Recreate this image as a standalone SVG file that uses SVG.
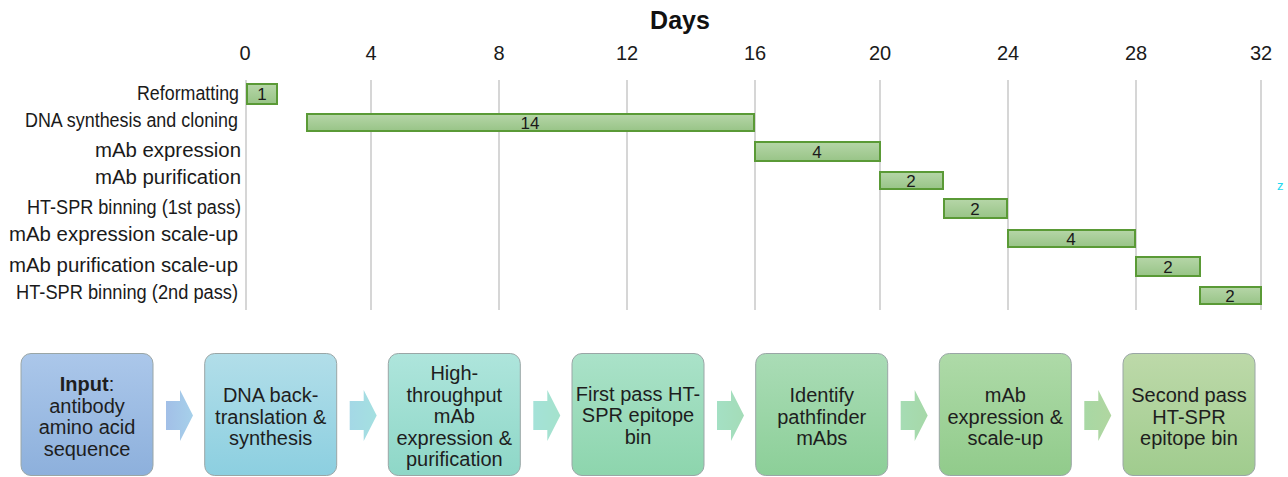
<svg xmlns="http://www.w3.org/2000/svg" width="1288" height="477" viewBox="0 0 1288 477">
<style>
.lbl{font-family:"Liberation Sans",Arial,sans-serif;font-size:20px;fill:#1a1a1a}
.tick{font-family:"Liberation Sans",Arial,sans-serif;font-size:20px;fill:#1a1a1a;text-anchor:middle}
.num{font-family:"Liberation Sans",Arial,sans-serif;font-size:17px;fill:#1a1a1a;text-anchor:middle}
.grid{stroke:#d6d6d6;stroke-width:2}
.bar{fill:url(#gBar);stroke:#5a9a36;stroke-width:2}
.box{stroke:#9aa6a6;stroke-width:1}
.bt{font-family:"Liberation Sans",Arial,sans-serif;font-size:20px;fill:#1e1e1e;text-anchor:middle}
</style>
<defs>
<linearGradient id="gBar" x1="0" y1="0" x2="0" y2="1"><stop offset="0" stop-color="#b6d6a8"/><stop offset="1" stop-color="#98c487"/></linearGradient>
<linearGradient id="b1" x1="0" y1="0" x2="0" y2="1"><stop offset="0" stop-color="#abc7ea"/><stop offset="1" stop-color="#8db0dc"/></linearGradient>
<linearGradient id="b2" x1="0" y1="0" x2="0" y2="1"><stop offset="0" stop-color="#b2dee9"/><stop offset="1" stop-color="#8ccfe0"/></linearGradient>
<linearGradient id="b3" x1="0" y1="0" x2="0" y2="1"><stop offset="0" stop-color="#aee5dc"/><stop offset="1" stop-color="#8ed7c7"/></linearGradient>
<linearGradient id="b4" x1="0" y1="0" x2="0" y2="1"><stop offset="0" stop-color="#aae2c9"/><stop offset="1" stop-color="#8dd5ad"/></linearGradient>
<linearGradient id="b5" x1="0" y1="0" x2="0" y2="1"><stop offset="0" stop-color="#aadcb6"/><stop offset="1" stop-color="#8ccf98"/></linearGradient>
<linearGradient id="b6" x1="0" y1="0" x2="0" y2="1"><stop offset="0" stop-color="#aedaa8"/><stop offset="1" stop-color="#91cb8b"/></linearGradient>
<linearGradient id="b7" x1="0" y1="0" x2="0" y2="1"><stop offset="0" stop-color="#bdd9a9"/><stop offset="1" stop-color="#a0cc8e"/></linearGradient>
<linearGradient id="a1" x1="0" y1="0" x2="1" y2="0"><stop offset="0" stop-color="#a2bfe7"/><stop offset="1" stop-color="#a6d0ea"/></linearGradient>
<linearGradient id="a2" x1="0" y1="0" x2="1" y2="0"><stop offset="0" stop-color="#a4d8e6"/><stop offset="1" stop-color="#a4e0e0"/></linearGradient>
<linearGradient id="a3" x1="0" y1="0" x2="1" y2="0"><stop offset="0" stop-color="#a4e2d8"/><stop offset="1" stop-color="#a4e2cc"/></linearGradient>
<linearGradient id="a4" x1="0" y1="0" x2="1" y2="0"><stop offset="0" stop-color="#a4e0c4"/><stop offset="1" stop-color="#a4dcb8"/></linearGradient>
<linearGradient id="a5" x1="0" y1="0" x2="1" y2="0"><stop offset="0" stop-color="#a6dcb4"/><stop offset="1" stop-color="#a6d8a8"/></linearGradient>
<linearGradient id="a6" x1="0" y1="0" x2="1" y2="0"><stop offset="0" stop-color="#a8d8a4"/><stop offset="1" stop-color="#b0d6a0"/></linearGradient>
</defs>
<rect width="1288" height="477" fill="#ffffff"/>

<g id="chart">
<text x="680" y="29" text-anchor="middle" font-family="Liberation Sans, Arial, sans-serif" font-size="25" font-weight="bold" fill="#111">Days</text>
<g id="ticks">
<text class="tick" x="245" y="60">0</text>
<text class="tick" x="371" y="60">4</text>
<text class="tick" x="499" y="60">8</text>
<text class="tick" x="627" y="60">12</text>
<text class="tick" x="755" y="60">16</text>
<text class="tick" x="880" y="60">20</text>
<text class="tick" x="1008" y="60">24</text>
<text class="tick" x="1136" y="60">28</text>
<text class="tick" x="1261" y="60">32</text>
</g>
<g id="gridlines">
<line class="grid" x1="246" y1="80" x2="246" y2="310"/>
<line class="grid" x1="371" y1="80" x2="371" y2="310"/>
<line class="grid" x1="499" y1="80" x2="499" y2="310"/>
<line class="grid" x1="627" y1="80" x2="627" y2="310"/>
<line class="grid" x1="755" y1="80" x2="755" y2="310"/>
<line class="grid" x1="880" y1="80" x2="880" y2="310"/>
<line class="grid" x1="1008" y1="80" x2="1008" y2="310"/>
<line class="grid" x1="1136" y1="80" x2="1136" y2="310"/>
<line class="grid" x1="1261" y1="80" x2="1261" y2="310"/>
</g>
<g id="labels">
<text class="lbl" x="137" y="100" textLength="102" lengthAdjust="spacingAndGlyphs">Reformatting</text>
<text class="lbl" x="25" y="127" textLength="213" lengthAdjust="spacingAndGlyphs">DNA synthesis and cloning</text>
<text class="lbl" x="95" y="157" textLength="146" lengthAdjust="spacingAndGlyphs">mAb expression</text>
<text class="lbl" x="95" y="184" textLength="146" lengthAdjust="spacingAndGlyphs">mAb purification</text>
<text class="lbl" x="27" y="214" textLength="214" lengthAdjust="spacingAndGlyphs">HT-SPR binning (1st pass)</text>
<text class="lbl" x="9" y="241" textLength="229" lengthAdjust="spacingAndGlyphs">mAb expression scale-up</text>
<text class="lbl" x="9" y="272" textLength="229" lengthAdjust="spacingAndGlyphs">mAb purification scale-up</text>
<text class="lbl" x="16" y="299" textLength="222" lengthAdjust="spacingAndGlyphs">HT-SPR binning (2nd pass)</text>
</g>
</g>

<g id="bar-reformatting"><rect class="bar" x="247" y="84" width="30" height="20"/><text class="num" x="262" y="100">1</text></g>
<g id="bar-dna"><rect class="bar" x="307" y="114" width="447" height="17"/><text class="num" x="530" y="128.5">14</text></g>
<g id="bar-expression"><rect class="bar" x="755" y="142" width="125" height="19"/><text class="num" x="817" y="157.5">4</text></g>
<g id="bar-purification"><rect class="bar" x="880" y="172" width="63" height="17"/><text class="num" x="911" y="186.5">2</text></g>
<g id="bar-binning1"><rect class="bar" x="944" y="199" width="63" height="19"/><text class="num" x="975" y="214.5">2</text></g>
<g id="bar-expression-scaleup"><rect class="bar" x="1008" y="230" width="127" height="17"/><text class="num" x="1071" y="244.5">4</text></g>
<g id="bar-purification-scaleup"><rect class="bar" x="1136" y="257" width="64" height="19"/><text class="num" x="1168" y="272.5">2</text></g>
<g id="bar-binning2"><rect class="bar" x="1200" y="287" width="61" height="17"/><text class="num" x="1230" y="301.5">2</text></g>

<text x="1277" y="190" font-family="Liberation Sans, Arial, sans-serif" font-size="13" fill="#22d8f0">z</text>

<g id="connectors">
<polygon fill="url(#a1)" points="166,401 180,401 180,390 193,415.5 180,441 180,430 166,430"/>
<polygon fill="url(#a2)" points="349.7,401 363.7,401 363.7,390 376.7,415.5 363.7,441 363.7,430 349.7,430"/>
<polygon fill="url(#a3)" points="533.3,401 547.3,401 547.3,390 560.3,415.5 547.3,441 547.3,430 533.3,430"/>
<polygon fill="url(#a4)" points="717,401 731,401 731,390 744,415.5 731,441 731,430 717,430"/>
<polygon fill="url(#a5)" points="900.7,401 914.7,401 914.7,390 927.7,415.5 914.7,441 914.7,430 900.7,430"/>
<polygon fill="url(#a6)" points="1084.3,401 1098.3,401 1098.3,390 1111.3,415.5 1098.3,441 1098.3,430 1084.3,430"/>
</g>

<g id="step-input">
<rect class="box" x="21" y="353.5" width="132" height="122" rx="10" fill="url(#b1)"/>
<text class="bt" x="87" y="391"><tspan font-weight="bold">Input</tspan>:</text>
<text class="bt" x="87" y="412.5">antibody</text>
<text class="bt" x="87" y="434">amino acid</text>
<text class="bt" x="87" y="455.5">sequence</text>
</g>
<g id="step-dna">
<rect class="box" x="204.7" y="353.5" width="132" height="122" rx="10" fill="url(#b2)"/>
<text class="bt" x="270.7" y="402">DNA back-</text>
<text class="bt" x="270.7" y="423.5">translation &amp;</text>
<text class="bt" x="270.7" y="445">synthesis</text>
</g>
<g id="step-htp">
<rect class="box" x="388.3" y="353.5" width="132" height="122" rx="10" fill="url(#b3)"/>
<text class="bt" x="454.3" y="380">High-</text>
<text class="bt" x="454.3" y="401.5">throughput</text>
<text class="bt" x="454.3" y="423">mAb</text>
<text class="bt" x="454.3" y="444.5">expression &amp;</text>
<text class="bt" x="454.3" y="466">purification</text>
</g>
<g id="step-first-pass">
<rect class="box" x="572" y="353.5" width="132" height="122" rx="10" fill="url(#b4)"/>
<text class="bt" x="638" y="400.5">First pass HT-</text>
<text class="bt" x="638" y="422">SPR epitope</text>
<text class="bt" x="638" y="443.5">bin</text>
</g>
<g id="step-identify">
<rect class="box" x="755.7" y="353.5" width="132" height="122" rx="10" fill="url(#b5)"/>
<text class="bt" x="821.7" y="402">Identify</text>
<text class="bt" x="821.7" y="423.5">pathfinder</text>
<text class="bt" x="821.7" y="445">mAbs</text>
</g>
<g id="step-scaleup">
<rect class="box" x="939.3" y="353.5" width="132" height="122" rx="10" fill="url(#b6)"/>
<text class="bt" x="1005.3" y="402">mAb</text>
<text class="bt" x="1005.3" y="423.5">expression &amp;</text>
<text class="bt" x="1005.3" y="445">scale-up</text>
</g>
<g id="step-second-pass">
<rect class="box" x="1123" y="353.5" width="132" height="122" rx="10" fill="url(#b7)"/>
<text class="bt" x="1189" y="402">Second pass</text>
<text class="bt" x="1189" y="423.5">HT-SPR</text>
<text class="bt" x="1189" y="445">epitope bin</text>
</g>
</svg>
